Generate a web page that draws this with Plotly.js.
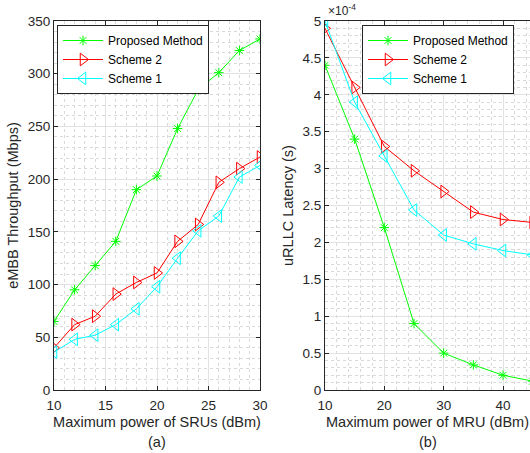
<!DOCTYPE html>
<html>
<head>
<meta charset="utf-8">
<script src="https://cdn.plot.ly/plotly-3.0.1.min.js"></script>
<style>html,body{margin:0;padding:0;background:#fff;}#chart{width:530px;height:453px;}</style>
</head>
<body>
<div id="chart"></div>
<script>
// Panel (a): eMBB throughput vs max power of SRUs
const powerSRU = [10, 12, 14, 16, 18, 20, 22, 24, 26, 28, 30];
const thrProposed = [65, 95, 118, 141, 190, 203, 248, 285, 301, 322, 333];
const thrScheme2 = [40, 62, 70, 91, 102, 111, 141, 157, 197, 210, 221];
const thrScheme1 = [36, 48, 52, 62, 77, 98, 125, 151, 165, 202, 213];

// Panel (b): uRLLC latency (in units of 1e-4 s) vs max power of MRU
const powerMRU = [10, 15, 20, 25, 30, 35, 40, 45];
const latProposed = [4.4, 3.4, 2.2, 0.9, 0.5, 0.34, 0.2, 0.12];
const latScheme2 = [4.9, 4.1, 3.3, 2.97, 2.69, 2.41, 2.31, 2.27];
const latScheme1 = [5.0, 3.9, 3.17, 2.44, 2.1, 1.98, 1.89, 1.83];

const names = ['Proposed Method', 'Scheme 2', 'Scheme 1'];
const panelLabels = ['(a)', '(b)'];

const FONT = 'Liberation Sans, Arial, sans-serif';
const AX = '#262626';
const GREEN = '#00ff00', RED = '#ff0000', CYAN = '#00ffff';

function tr(x, y, name, color, symbol, size, xa, ya, legend) {
  return {
    x: x, y: y, name: name, type: 'scatter', mode: 'lines+markers',
    line: {color: color, width: 1},
    marker: {symbol: symbol, size: size, color: color, line: {color: color, width: 1}},
    xaxis: xa, yaxis: ya, legend: legend, cliponaxis: true
  };
}

const data = [
  tr(powerSRU, thrProposed, names[0], GREEN, 'asterisk-open', 8, 'x', 'y', 'legend'),
  tr(powerSRU, thrScheme2, names[1], RED, 'triangle-right-open', 11, 'x', 'y', 'legend'),
  tr(powerSRU, thrScheme1, names[2], CYAN, 'triangle-left-open', 11, 'x', 'y', 'legend'),
  tr(powerMRU, latProposed, names[0], GREEN, 'asterisk-open', 8, 'x2', 'y2', 'legend2'),
  tr(powerMRU, latScheme2, names[1], RED, 'triangle-right-open', 11, 'x2', 'y2', 'legend2'),
  tr(powerMRU, latScheme1, names[2], CYAN, 'triangle-left-open', 11, 'x2', 'y2', 'legend2')
];

const W = 530, H = 453;
const yDom = [(H - 390) / H, (H - 21) / H];
const TITLEFONT = {family: FONT, size: 14.5, color: AX};
const MINOR_GRID = '#d9d9d9';

function axisBase() {
  return {
    showline: true, linecolor: AX, linewidth: 1,
    ticks: 'inside', ticklen: 4, tickcolor: AX, tickwidth: 1,
    tickfont: {family: FONT, size: 13.5, color: AX},
    showgrid: true, gridcolor: '#e2e2e2', gridwidth: 1,
    zeroline: false, fixedrange: true
  };
}

const xa = Object.assign(axisBase(), {
  domain: [54 / W, 260 / W], range: [10, 30], tickvals: [10, 15, 20, 25, 30], mirror: 'ticks', anchor: 'y',
  ticklabelstandoff: 3,
  minor: {dtick: 1, tick0: 10, showgrid: true, gridcolor: MINOR_GRID, griddash: 'dot', gridwidth: 1, ticks: ''},
  title: {text: 'Maximum power of SRUs (dBm)', standoff: 4, font: TITLEFONT}
});
const ya = Object.assign(axisBase(), {
  domain: yDom, range: [0, 350], tickvals: [0, 50, 100, 150, 200, 250, 300, 350], mirror: 'ticks', anchor: 'x',
  minor: {dtick: 10, tick0: 0, showgrid: true, gridcolor: MINOR_GRID, griddash: 'dot', gridwidth: 1, ticks: ''},
  title: {text: 'eMBB Throughput (Mbps)', standoff: 5, font: TITLEFONT}
});
const xMax2 = 10 + (530 - 325) / (178 / 30);
const xa2 = Object.assign(axisBase(), {
  domain: [325 / W, 1], range: [10, xMax2], tickvals: [10, 20, 30, 40], mirror: 'ticks', anchor: 'y2',
  ticklabelstandoff: 3,
  minor: {dtick: 2, tick0: 10, showgrid: true, gridcolor: MINOR_GRID, griddash: 'dot', gridwidth: 1, ticks: ''},
  title: {text: 'Maximum power of MRU (dBm)', standoff: 4, font: TITLEFONT}
});
const ya2 = Object.assign(axisBase(), {
  domain: yDom, range: [0, 5], tickvals: [0, 0.5, 1, 1.5, 2, 2.5, 3, 3.5, 4, 4.5, 5],
  ticktext: ['0', '0.5', '1', '1.5', '2', '2.5', '3', '3.5', '4', '4.5', '5'], mirror: false, anchor: 'x2',
  minor: {dtick: 0.1, tick0: 0, showgrid: true, gridcolor: MINOR_GRID, griddash: 'dot', gridwidth: 1, ticks: ''},
  title: {text: 'uRLLC Latency (s)', standoff: 5, font: TITLEFONT}
});

const legendBase = {
  bgcolor: '#ffffff', bordercolor: AX, borderwidth: 1,
  font: {family: FONT, size: 12, color: '#000'},
  xanchor: 'left', yanchor: 'top', tracegroupgap: 0, itemwidth: 40,
  traceorder: 'normal'
};

const layout = {
  width: W, height: H,
  margin: {l: 0, r: 0, t: 0, b: 0},
  paper_bgcolor: '#ffffff', plot_bgcolor: '#ffffff',
  showlegend: true,
  font: {family: FONT, color: AX},
  xaxis: xa, yaxis: ya, xaxis2: xa2, yaxis2: ya2,
  legend: Object.assign({}, legendBase, {x: 57 / W, y: (H - 25) / H}),
  legend2: Object.assign({}, legendBase, {x: 362 / W, y: (H - 25) / H}),
  annotations: [{
    text: '\u00d710<sup>-4</sup>', xref: 'paper', yref: 'paper',
    x: 326 / W, y: (H - 20) / H, xanchor: 'left', yanchor: 'bottom', showarrow: false,
    font: {family: FONT, size: 12, color: AX}
  }, {
    text: panelLabels[0], xref: 'x domain', yref: 'paper', x: 0.5, y: (H - 442) / H,
    xanchor: 'center', yanchor: 'middle', showarrow: false, font: TITLEFONT
  }, {
    text: panelLabels[1], xref: 'x2 domain', yref: 'paper', x: 0.5, y: (H - 442) / H,
    xanchor: 'center', yanchor: 'middle', showarrow: false, font: TITLEFONT
  }]
};

Plotly.newPlot('chart', data, layout, {displayModeBar: false, staticPlot: true});
</script>
</body>
</html>
